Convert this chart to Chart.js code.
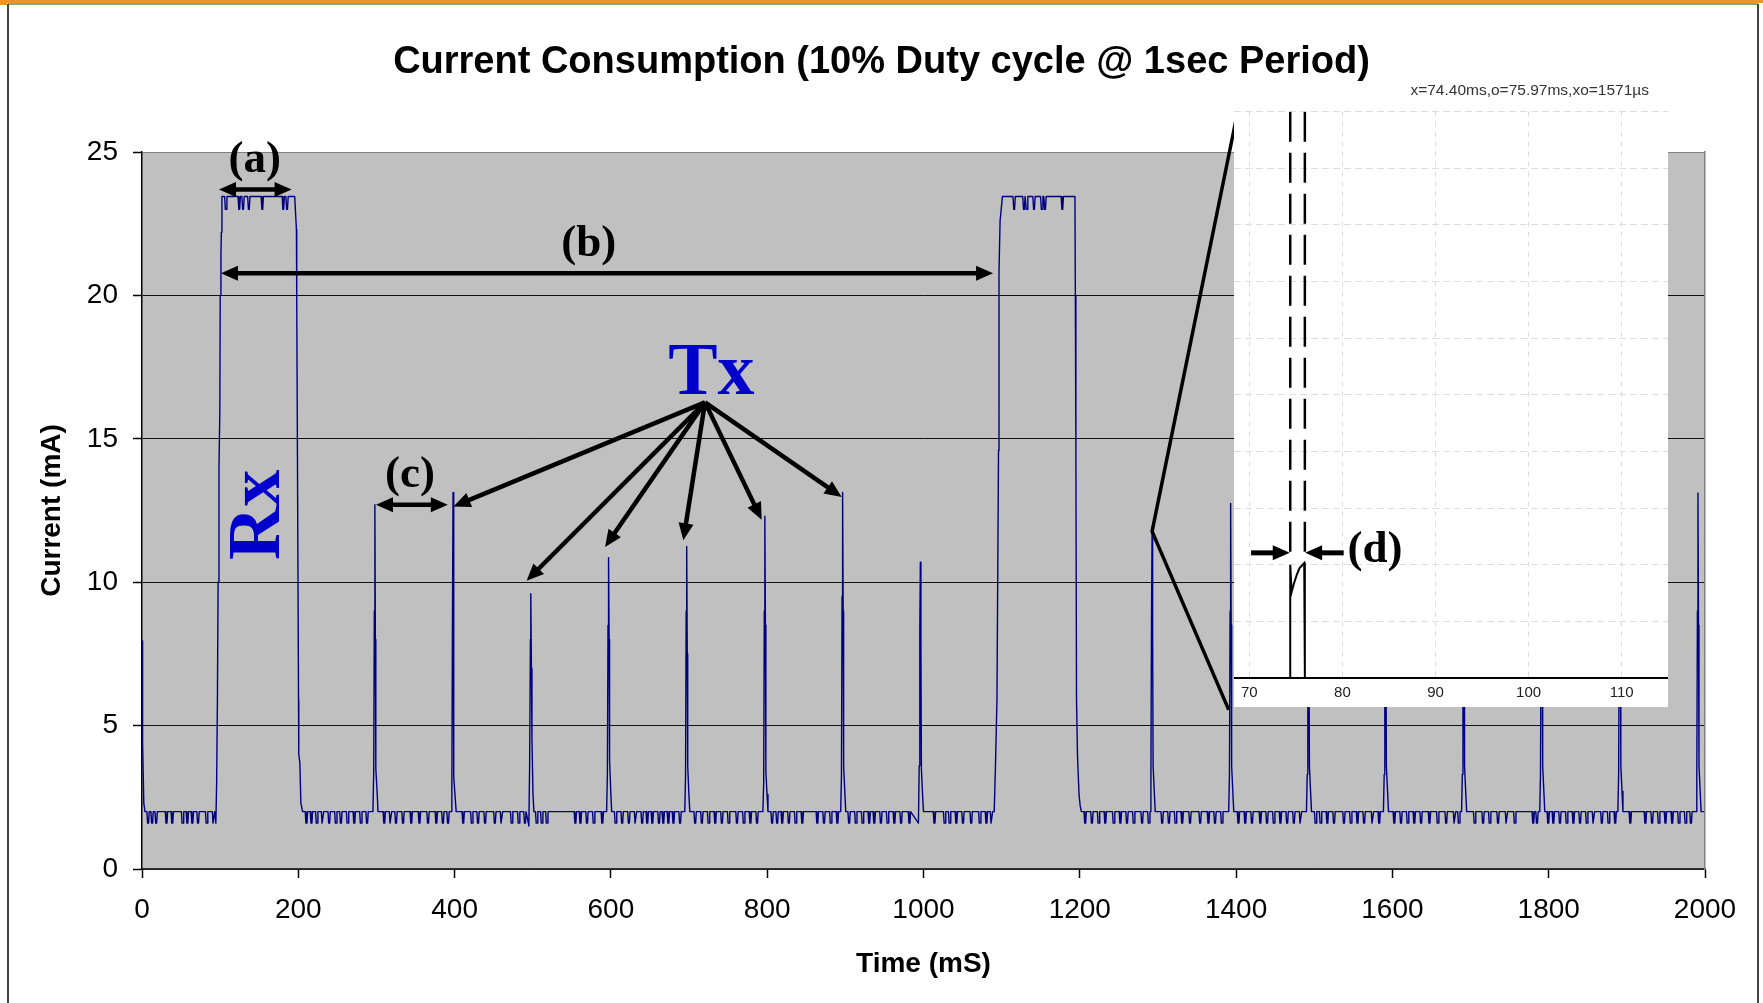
<!DOCTYPE html>
<html>
<head>
<meta charset="utf-8">
<title>Current Consumption</title>
<script src="https://cdn.jsdelivr.net/npm/chart.js@4.4.1/dist/chart.umd.min.js"></script>
<style>
  html, body { margin: 0; padding: 0; background: #fff; }
  #wrap { position: relative; width: 1763px; height: 1003px; overflow: hidden; }
  #main { position: absolute; left: 0; top: 0; }
  #inset { position: absolute; left: 1234px; top: 82px; }
</style>
</head>
<body>
<div id="wrap">
  <canvas id="main" width="1763" height="1003"></canvas>
  <canvas id="inset" width="434" height="625"></canvas>
</div>
<script>
// values (time in ms, current in mA)
const xTicks = [0, 200, 400, 600, 800, 1000, 1200, 1400, 1600, 1800, 2000];
const yTicks = [0, 5, 10, 15, 20, 25];

const baseHigh = 2.0, baseLow = 1.6;   // idle current, noise floor
const rxHigh = 23.45, rxLow = 23.0;    // receive plateau

const startTail = [[0, 7.95], [0.5, 5.9], [1, 4.4], [2.3, 2.3], [3.8, 2.0]];
const endTail = [[1999, 2.0]];

const rxPulses = [
  [[94.5,1.6],[95.5,3.0],[96.5,5.9],[97.4,10],[98.5,14],[99.6,16],[100.1,20],[101,21.4],[101.5,22.2],[102.3,23.45],
   [195.4,23.45],[197.6,22.3],[198,19.9],[200.3,5.9],[200.6,4.0],[202,3.7],[203.3,2.3],[205.5,2.0]],
  [[1090.5,2.0],[1092,3.5],[1094,5.9],[1096,14.6],[1096.6,20.8],[1098,22.6],[1101,23.45],
   [1193.8,23.45],[1194.3,20],[1195,14.6],[1195.8,5.9],[1197,4.0],[1199,2.6],[1200.5,2.2],[1202,2.0]]
];

const txSpikes = [
  [[295.5,2.0],[296.5,3.4],[297.3,9],[298,12.7],[298.6,8],[299.2,3.5],[300.8,2.7],[302,2.0]],
  [[395.5,2.0],[396.5,3.0],[397.3,9],[398,13.13],[398.6,8.5],[399.2,3.2],[400.5,2.6],[402,2.0]],
  [[495,1.5],[496,3.6],[497,8],[497.5,9.6],[498.3,7],[499,4.5],[500.3,2.6],[501.5,2.0]],
  [[594.5,2.0],[595.5,3.3],[596.3,8.5],[597,10.85],[597.7,8],[598.3,3.8],[599.8,2.7],[601,2.0]],
  [[694.5,2.0],[695.5,3.2],[696.3,9],[697,11.25],[697.7,7.5],[698.3,3.6],[699.8,2.6],[701,2.0]],
  [[794.5,2.0],[795.5,3.0],[796.3,9],[797,12.3],[797.7,8.5],[798.3,3.4],[799.8,2.6],[801,2.0]],
  [[894,2.0],[895,3.2],[895.8,9.5],[896.5,13.13],[897.2,9],[897.8,3.6],[899.3,2.7],[900.5,2.0]],
  [[993.5,1.6],[994.5,3.6],[995.3,8.5],[996,10.7],[996.7,8],[997.3,3.5],[998.8,2.6],[1000,2.0]],
  [[1290,2.0],[1291,3.3],[1291.8,9],[1292.5,11.77],[1293.2,8],[1293.8,3.6],[1295.3,2.7],[1296.5,2.0]],
  [[1390.5,2.0],[1391.5,3.3],[1392.3,9],[1393,12.75],[1393.7,8.5],[1394.3,3.6],[1395.8,2.7],[1397,2.0]],
  [[1490,2.0],[1491,3.3],[1491.8,9],[1492.5,12.0],[1493.2,8],[1493.8,3.6],[1495.3,2.7],[1496.5,2.0]],
  [[1588.5,2.0],[1589.5,3.3],[1590.3,9],[1591,11.5],[1591.7,8],[1592.3,3.6],[1593.8,2.7],[1595,2.0]],
  [[1688.5,2.0],[1689.5,3.3],[1690.3,9],[1691,11.0],[1691.7,8],[1692.3,3.6],[1693.8,2.7],[1695,2.0]],
  [[1788.5,2.0],[1789.5,3.3],[1790.3,9],[1791,12.0],[1791.7,8],[1792.3,3.6],[1793.8,2.7],[1795,2.0]],
  [[1888.5,2.0],[1889.5,3.3],[1890.3,9],[1891,11.5],[1891.7,8],[1892.3,3.6],[1893.8,2.7],[1895,2.0]],
  [[1988.5,2.0],[1989.5,3.3],[1990.3,9],[1991,13.11],[1991.7,8.5],[1992.3,3.6],[1993.8,2.7],[1995,2.0]]
];

// times of the little dips in the idle noise
const baseDips = [7.8, 12.9, 18.1, 31.3, 38.7, 51.9, 58, 64.4, 71.7, 82.7, 91.5,
  210.4, 216.8, 223.6, 231, 239.5, 248, 254.5, 263, 271.6, 280, 288,
  310, 318, 325, 334, 344.5, 355, 366, 376.6, 385, 391.6,
  411, 422, 430, 439, 451.5, 460, 473, 482, 490,
  505, 511.5, 518, 554.5, 561, 569.4, 578, 589,
  606, 614.4, 623, 631.5, 640, 646.5, 653, 661.5, 667, 673.5, 680, 688.5,
  707.8, 716.4, 725, 733.5, 742, 750.6, 761.3, 770, 778.5, 787,
  806.3, 812.7, 819.2, 827.7, 836.3, 844.9, 864.1, 872.7, 881.3, 889.8,
  904.8, 913.4, 922, 930.5, 937, 945.5, 954, 962.7, 971.3, 982,
  1014, 1027, 1033.4, 1042, 1050.5, 1061, 1072, 1080.5, 1087,
  1206.9, 1215.5, 1224, 1232.6, 1243.3, 1251.9, 1260.4, 1269, 1279.7, 1288.3,
  1305.4, 1314, 1322.5, 1331, 1341, 1354, 1364.6, 1373, 1381.7,
  1403, 1411.7, 1420.3, 1431, 1439.6, 1448.2, 1456.7, 1465.3, 1473.9, 1482.4,
  1501.7, 1508.1, 1516.7, 1525.3, 1538, 1546.7, 1555.3, 1563.8, 1574.5, 1583.1,
  1602.4, 1611, 1619.5, 1628, 1636.7, 1647.4, 1658, 1668.8, 1679.5, 1685,
  1705.2, 1716, 1724.5, 1735.2, 1746, 1756.6, 1780.2, 1785,
  1799.4, 1805.9, 1814.4, 1823, 1831.6, 1840.1, 1848.7, 1857.3, 1868, 1876.6, 1885.1,
  1904.4, 1923.7, 1932.3, 1940.8, 1949.4, 1958, 1966.5, 1975.1, 1982];
// dips on top of the Rx plateaus
const rxDips = [107.2, 124.4, 129.3, 136.7, 153.9, 180.8, 185.6,
  1116, 1128.5, 1132, 1141.4, 1151.3, 1155.5, 1177.6];

// zoomed scope inset (time in ms, amplitude in divisions)
const insetTicks = [70, 80, 90, 100, 110];
const insetDivs = [0, 1, 2, 3, 4, 5, 6, 7, 8, 9, 10];
const insetTrace = [[68.36,0],[74.40,0],[74.40,2.0],[74.55,1.52],[74.8,1.67],[75.1,1.82],[75.4,1.94],[75.9,2.03],[75.97,2.03],[75.97,0],[114.97,0]];
const cursorX = [[74.40,10],[74.40,2.08]];
const cursorO = [[75.97,10],[75.97,2.03]];

const SANS = "'Liberation Sans', Arial, sans-serif";
const SERIF = "'Liberation Serif', 'Times New Roman', serif";

function buildTrace(){
  const pts = [];
  const add = arr => arr.forEach(p => pts.push({x: p[0], y: p[1]}));
  add(startTail); rxPulses.forEach(add); txSpikes.forEach(add); add(endTail);
  // each dip drawn as a small notch, about 3 ms wide
  baseDips.forEach(t => pts.push({x:t-1.5,y:baseHigh},{x:t-0.6,y:baseLow},{x:t+0.6,y:baseLow},{x:t+1.5,y:baseHigh}));
  rxDips.forEach(t => pts.push({x:t-1.5,y:rxHigh},{x:t-0.5,y:rxLow},{x:t+0.5,y:rxLow},{x:t+1.5,y:rxHigh}));
  pts.sort((a,b) => a.x - b.x);
  return pts;
}
const toXY = arr => arr.map(p => ({x: p[0], y: p[1]}));

function head(ctx, x1, y1, x2, y2, len, w){
  const a = Math.atan2(y2-y1, x2-x1), c = Math.cos(a), s = Math.sin(a);
  ctx.beginPath();
  ctx.moveTo(x2, y2);
  ctx.lineTo(x2 - len*c + w/2*s, y2 - len*s - w/2*c);
  ctx.lineTo(x2 - len*c - w/2*s, y2 - len*s + w/2*c);
  ctx.closePath(); ctx.fill();
}
function arrow(ctx, x1, y1, x2, y2, both){
  const a = Math.atan2(y2-y1, x2-x1), L = 12;
  ctx.beginPath();
  ctx.moveTo(both ? x1 + L*Math.cos(a) : x1, both ? y1 + L*Math.sin(a) : y1);
  ctx.lineTo(x2 - L*Math.cos(a), y2 - L*Math.sin(a));
  ctx.stroke();
  head(ctx, x1, y1, x2, y2, 17, 15);
  if(both) head(ctx, x2, y2, x1, y1, 17, 15);
}

// background, frame and plot fill
const frame = {
  id: 'frame',
  beforeDraw(chart){
    const {ctx, chartArea: a, width, height} = chart;
    ctx.save();
    ctx.fillStyle = '#fff'; ctx.fillRect(0, 0, width, height);
    ctx.fillStyle = '#f4922a'; ctx.fillRect(0, 0, width, 3); ctx.fillRect(0, 0, 7, 5);
    ctx.strokeStyle = '#777'; ctx.lineWidth = 1.5;
    ctx.beginPath(); ctx.moveTo(8, 4); ctx.lineTo(1758, 4); ctx.stroke();
    ctx.strokeStyle = '#444'; ctx.lineWidth = 2;
    ctx.beginPath(); ctx.moveTo(8, 4); ctx.lineTo(8, height); ctx.moveTo(1758, 4); ctx.lineTo(1758, height); ctx.stroke();
    ctx.fillStyle = '#c0c0c0'; ctx.fillRect(a.left, a.top, a.right - a.left, a.bottom - a.top);
    ctx.restore();
  }
};

// arrows and labels on the main plot
const notes = {
  id: 'notes',
  afterDatasetsDraw(chart){
    const {ctx, scales: {x, y}} = chart;
    const X = t => x.getPixelForValue(t), Y = v => y.getPixelForValue(v);
    ctx.save();
    ctx.strokeStyle = '#000'; ctx.fillStyle = '#000'; ctx.lineWidth = 4.5; ctx.lineCap = 'butt';
    // (a) (b) (c) spans
    arrow(ctx, X(98.5), Y(23.69), X(191.4), Y(23.69), true);
    arrow(ctx, X(101), Y(20.77), X(1089), Y(20.77), true);
    arrow(ctx, X(299.4), Y(12.70), X(391.3), Y(12.70), true);
    // Tx fan
    const o = [720.4, 16.27];
    [[398.6,12.64],[492.2,10.05],[592.5,11.23],[692.7,11.46],[792.9,12.18],[895.3,12.97]]
      .forEach(t => arrow(ctx, X(o[0]), Y(o[1]), X(t[0]), Y(t[1]), false));
    // lines to the zoomed inset
    ctx.lineWidth = 3.5;
    ctx.beginPath();
    ctx.moveTo(X(1402.1), Y(26.42)); ctx.lineTo(X(1292.5), Y(11.77)); ctx.lineTo(X(1390.6), Y(5.55));
    ctx.stroke();
    // labels
    ctx.textAlign = 'center'; ctx.textBaseline = 'alphabetic';
    ctx.font = 'bold 45px ' + SERIF;
    ctx.fillText('(a)', X(144.2), Y(24.29));
    ctx.fillText('(b)', X(571.6), Y(21.36));
    ctx.fillText('(c)', X(342.9), Y(13.31));
    ctx.fillStyle = '#0000cc';
    ctx.font = 'bold 74px ' + SERIF;
    ctx.fillText('Tx', X(728.5), Y(16.56));
    ctx.translate(X(175.8), Y(12.35)); ctx.rotate(-Math.PI/2);
    ctx.fillText('Rx', 0, 0);
    ctx.restore();
  }
};

new Chart(document.getElementById('main'), {
  type: 'line',
  data: { datasets: [{
    data: buildTrace(), borderColor: '#000080', borderWidth: 1.4, pointRadius: 0,
    tension: 0, fill: false, borderJoinStyle: 'round'
  }]},
  options: {
    responsive: false, animation: false, devicePixelRatio: 1,
    layout: { padding: 0 },
    plugins: {
      legend: { display: false }, tooltip: { enabled: false },
      title: { display: true, text: 'Current Consumption (10% Duty cycle @ 1sec Period)', color: '#000',
        font: { family: SANS, size: 38, weight: 'bold', lineHeight: 1.2 }, padding: { top: 40, bottom: 66.4 } }
    },
    scales: {
      x: { type: 'linear', min: 0, max: 2000,
        afterBuildTicks: s => { s.ticks = xTicks.map(v => ({value: v})); },
        afterFit: s => { s.height = 134; },
        ticks: { color: '#000', font: { family: SANS, size: 28 }, padding: 15.7, maxRotation: 0, autoSkip: false,
          callback: v => String(v) },
        grid: { drawOnChartArea: false, drawTicks: true, tickLength: 9, tickColor: '#000', tickWidth: 1.5 },
        border: { display: true, color: '#333', width: 1.5 },
        title: { display: true, text: 'Time (mS)', color: '#000', font: { family: SANS, size: 28, weight: 'bold', lineHeight: 1.2 }, padding: { top: 0, bottom: 22.2 } }
      },
      y: { min: 0, max: 25,
        afterBuildTicks: s => { s.ticks = yTicks.map(v => ({value: v})); },
        afterFit: s => { s.width = 142; },
        ticks: { color: '#000', font: { family: SANS, size: 28 }, padding: 15, callback: v => String(v) },
        grid: { color: c => (c.tick && c.tick.value === 25) ? '#808080' : '#111', lineWidth: 1, drawTicks: true, tickLength: 9, tickColor: '#000', tickWidth: 1.5 },
        border: { display: true, color: '#000', width: 1.5 },
        title: { display: true, text: 'Current (mA)', color: '#000', font: { family: SANS, size: 28, weight: 'bold', lineHeight: 1.2 }, padding: { top: 35.2, bottom: 0 } }
      },
      y2: { position: 'right', min: 0, max: 25,
        afterFit: s => { s.width = 58; },
        ticks: { display: false }, grid: { display: false },
        border: { display: true, color: '#808080', width: 1.5 }
      }
    }
  },
  plugins: [frame, notes]
});

// inset: white scope screen, cursor readout and (d)
const screen = {
  id: 'screen',
  beforeDraw(chart){
    const {ctx, width, height} = chart;
    ctx.save(); ctx.fillStyle = '#fff'; ctx.fillRect(0, 0, width, height); ctx.restore();
  },
  afterDatasetsDraw(chart){
    const {ctx, scales: {x, y}} = chart;
    const X = t => x.getPixelForValue(t), Y = v => y.getPixelForValue(v);
    ctx.save();
    ctx.fillStyle = '#333'; ctx.font = '15.5px ' + SANS;
    ctx.textAlign = 'right'; ctx.textBaseline = 'middle';
    ctx.fillText('x=74.40ms,o=75.97ms,xo=1571\u00b5s', 415, 8.7);
    ctx.strokeStyle = '#000'; ctx.fillStyle = '#000'; ctx.lineWidth = 5;
    arrow(ctx, X(70.19), Y(2.21), X(74.35), Y(2.21), false);
    arrow(ctx, X(80.14), Y(2.21), X(76.0), Y(2.21), false);
    ctx.font = 'bold 45px ' + SERIF; ctx.textAlign = 'center'; ctx.textBaseline = 'alphabetic';
    ctx.fillText('(d)', X(83.5), Y(2.05));
    ctx.restore();
  }
};

new Chart(document.getElementById('inset'), {
  type: 'line',
  data: { datasets: [
    { data: toXY(insetTrace), borderColor: '#000', borderWidth: 2, pointRadius: 0, tension: 0 },
    { data: toXY(cursorX), borderColor: '#000', borderWidth: 2.5, borderDash: [30, 11], pointRadius: 0 },
    { data: toXY(cursorO), borderColor: '#000', borderWidth: 2.5, borderDash: [30, 11], pointRadius: 0 }
  ]},
  options: {
    responsive: false, animation: false, devicePixelRatio: 1,
    layout: { padding: { top: 29.7, left: 0, right: 0, bottom: 0 } },
    plugins: { legend: { display: false }, tooltip: { enabled: false }, title: { display: false } },
    scales: {
      x: { type: 'linear', min: 68.36, max: 114.97,
        afterBuildTicks: s => { s.ticks = insetTicks.map(v => ({value: v})); },
        afterFit: s => { s.height = 29; },
        ticks: { color: '#222', font: { family: SANS, size: 15 }, padding: 5.7, maxRotation: 0, autoSkip: false },
        grid: { color: '#dedede', lineWidth: 1, drawTicks: false },
        border: { display: true, color: '#000', width: 2, dash: [5, 5] }
      },
      y: { min: 0, max: 10,
        afterBuildTicks: s => { s.ticks = insetDivs.map(v => ({value: v})); },
        afterFit: s => { s.width = 0; },
        ticks: { display: false },
        grid: { color: c => (c.tick && c.tick.value === 0) ? 'rgba(0,0,0,0)' : '#dedede', lineWidth: 1, drawTicks: false },
        border: { display: false, dash: [7, 4] }
      }
    }
  },
  plugins: [screen]
});
</script>
</body>
</html>
